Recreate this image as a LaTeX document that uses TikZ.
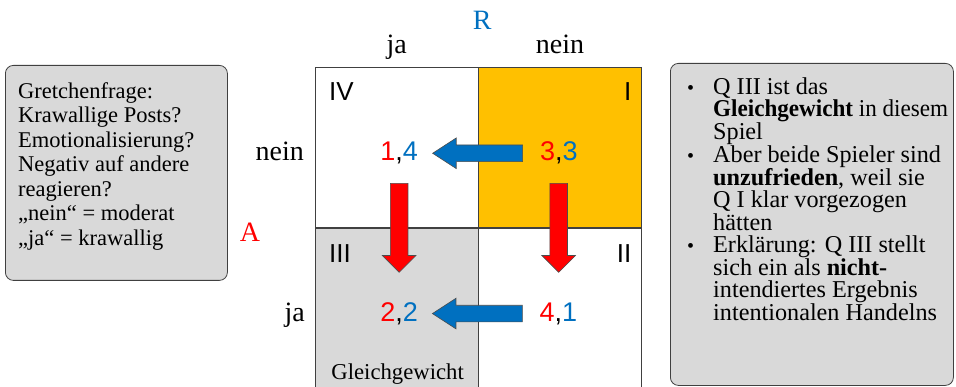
\documentclass[tikz,border=0pt]{standalone}
\usepackage{fontspec}
\setmainfont{Liberation Serif}
\setsansfont{Liberation Sans}
\usepackage{xcolor}
\usepackage{tikz}
\usetikzlibrary{positioning, shapes.arrows, calc}

\definecolor{qorange}{HTML}{FFC000}
\definecolor{qgray}{HTML}{D9D9D9}
\definecolor{pblue}{HTML}{0070C0}
\definecolor{pred}{HTML}{FF0000}

\newcommand{\pay}[2]{\textcolor{pred}{#1},\textcolor{pblue}{#2}}
\newcommand{\bul}{\makebox[26pt][l]{\fontsize{20}{20}\selectfont\textbullet}}
\newcommand{\ind}{\hspace*{26pt}}

\begin{document}
\begin{tikzpicture}[
    x=1pt, y=-1pt,
    cell/.style={draw=black!75, line width=0.8pt, inner sep=0pt,
        minimum width=162.5pt, minimum height=160pt},
    numeral/.style={font=\fontsize{26}{26}\selectfont\sffamily, inner sep=0pt},
    payoff/.style={font=\fontsize{27}{27}\selectfont\sffamily, inner sep=0pt, anchor=base},
    strat/.style={font=\fontsize{28}{28}\selectfont, inner sep=0pt, anchor=base},
    infobox/.style={draw=black!75, fill=qgray, rounded corners=8pt, line width=0.8pt,
        inner sep=0pt},
    fatarrow/.style={single arrow, draw=black!70, line width=0.6pt},
    leftarrow/.style={fatarrow, fill=pblue, shape border rotate=180, inner xsep=0pt,
        inner ysep=8pt, single arrow head extend=7pt, single arrow tip angle=66,
        minimum height=90pt, xshift=5pt},
    downarrow/.style={fatarrow, fill=pred, shape border rotate=270, inner ysep=0pt,
        inner xsep=8.5pt, single arrow head extend=8pt, single arrow tip angle=90,
        minimum height=89pt, yshift=10pt}
]
\useasboundingbox (0,0) rectangle (956,387);

% the four quadrants
\node[cell, fill=white, anchor=north west] (q4) at (315,67) {};
\node[cell, fill=qorange, right=0pt of q4] (q1) {};
\node[cell, fill=qgray, below=0pt of q4] (q3) {};
\node[cell, fill=white, right=0pt of q3] (q2) {};

\node[numeral, anchor=west] (n4) at ([shift={(14,24.5)}]q4.north west) {IV};
\node[numeral, anchor=east] (n1) at ([shift={(-10,24.5)}]q1.north east) {I};
\node[numeral, anchor=west] (n3) at ([shift={(14,26)}]q3.north west) {III};
\node[numeral, anchor=east] (n2) at ([shift={(-10,26)}]q2.north east) {II};

% payoffs
\node[payoff] (p14) at ([shift={(2.5,13.5)}]q4.center) {\pay{1}{4}};
\node[payoff] (p33) at ([shift={(-1,13.5)}]q1.center) {\pay{3}{3}};
\node[payoff] (p22) at ([shift={(2.5,13)}]q3.center) {\pay{2}{2}};
\node[payoff] (p41) at ([shift={(-1.5,13)}]q2.center) {\pay{4}{1}};

% best responses
\node[leftarrow] (b1) at ($(p14)!0.5!(p33)$) {};
\node[leftarrow] (b2) at ($(p22)!0.5!(p41)$) {};
\node[downarrow] (r1) at ($(p14)!0.5!(p22)$) {};
\node[downarrow] (r2) at ($(p33)!0.5!(p41)$) {};

% players and strategies
\node[strat, text=pblue] (rlabel) at ([shift={(4,-37.5)}]q4.north east) {R};
\node[strat] (cja) at ([yshift=13pt]q4.north) {ja};
\node[strat] (cnein) at ([yshift=13pt]q1.north) {nein};
\node[strat, anchor=base east] (rnein) at ([shift={(-11,13)}]q4.west) {nein};
\node[strat, anchor=base east] (rja) at ([shift={(-10,13)}]q3.west) {ja};
\node[strat, text=pred] (alabel) at ([shift={(-65,14)}]q4.south west) {A};
\node[strat, font=\fontsize{22.7}{22.7}\selectfont] (gg) at ([shift={(1,-9)}]q3.south) {Gleichgewicht};

% side boxes
\node[infobox, anchor=north west, minimum width=222pt, minimum height=215pt] (frage) at (5,65) {};
\node[below right=17pt and 13pt of frage.north west, inner sep=0pt, align=left,
    font=\fontsize{22.5}{24.5}\selectfont] (fragetext) {Gretchenfrage:\\
    Krawallige Posts?\\
    Emotionalisierung?\\
    Negativ auf andere\\
    reagieren?\\
    „nein“ = moderat\\
    „ja“ = krawallig};

\node[infobox, anchor=north west, minimum width=283pt, minimum height=322pt] (fazit) at (670,63) {};
\node[below right=15pt and 17pt of fazit.north west, inner sep=0pt, align=left,
    font=\fontsize{24.2}{21.7}\selectfont] (fazittext) {\bul Q III ist das\\
    \ind\scalebox{0.955}[1]{\textbf{Gleichgewicht} in diesem}\\
    \ind Spiel\\
    \bul Aber beide Spieler sind\\
    \ind\textbf{unzufrieden}, weil sie\\
    \ind Q I klar vorgezogen\\
    \ind hätten\\
    \bul Erklärung: Q III stellt\\
    \ind sich ein als \textbf{nicht-}\\
    \ind intendiertes Ergebnis\\
    \ind intentionalen Handelns};
\end{tikzpicture}
\end{document}
